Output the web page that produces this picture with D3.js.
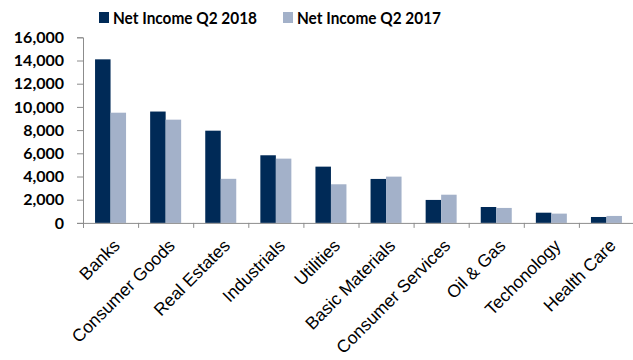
<!DOCTYPE html>
<html>
<head>
<meta charset="utf-8">
<script src="https://cdn.jsdelivr.net/npm/d3@7"></script>
<style>
  html, body { margin: 0; padding: 0; background: #fff; }
  svg { display: block; }
  .cat-label { font-family: "Liberation Sans", Arimo, Arial, Helvetica, sans-serif; font-size: 17.5px; }
  .bold-text { font-family: Lato, "Open Sans", sans-serif; font-weight: bold; }
</style>
</head>
<body>
<svg id="chart" width="633" height="360"></svg>
<script>
// Net income by sector, Q2 2018 vs Q2 2017
const sectors = ["Banks", "Consumer Goods", "Real Estates", "Industrials", "Utilities",
  "Basic Materials", "Consumer Services", "Oil & Gas", "Techonology", "Health Care"];
const income2018 = [14100, 9600, 7950, 5830, 4850, 3790, 1980, 1370, 880, 510];
const income2017 = [9500, 8900, 3800, 5540, 3330, 3990, 2430, 1290, 800, 600];
const seriesNames = ["Net Income Q2 2018", "Net Income Q2 2017"];
const yTicks = [0, 2000, 4000, 6000, 8000, 10000, 12000, 14000, 16000];

const colors = ["#002a57", "#a3b1c9"];
const axisColor = "#8c8c8c";

const svg = d3.select("#chart");
const plotLeft = 83, plotRight = 634, plotTop = 37.3, plotBottom = 222.9;

const x = d3.scaleBand().domain(sectors).range([plotLeft, plotRight]);
const inner = d3.scaleBand().domain([0, 1]).range([0, 31]);
const y = d3.scaleLinear().domain([0, 16000]).range([plotBottom, plotTop]);

// bars
const series = [income2018, income2017];
series.forEach((vals, s) => {
  svg.append("g").selectAll("rect")
    .data(sectors)
    .join("rect")
    .attr("x", d => x(d) + (x.bandwidth() - 31) / 2 + inner(s))
    .attr("y", (d, i) => y(vals[i]))
    .attr("width", inner.bandwidth())
    .attr("height", (d, i) => y(0) - y(vals[i]))
    .attr("fill", colors[s]);
});

// y axis
const yAxis = svg.append("g")
  .attr("transform", `translate(${plotLeft},0)`)
  .call(d3.axisLeft(y).tickValues(yTicks).tickSize(6).tickPadding(13)
    .tickFormat(d3.format(",")));
yAxis.attr("font-family", null).attr("font-size", null);
yAxis.select(".domain").attr("stroke", axisColor);
yAxis.selectAll(".tick line").attr("stroke", axisColor);
yAxis.selectAll(".tick text")
  .attr("class", "bold-text")
  .attr("fill", "#000")
  .style("font-size", "16px");

// x axis: baseline with ticks on category boundaries
const xBoundaries = d3.scaleLinear().domain([0, sectors.length]).range([plotLeft, plotRight]);
const xAxis = svg.append("g")
  .attr("transform", `translate(0,${plotBottom})`)
  .call(d3.axisBottom(xBoundaries).tickValues(d3.range(sectors.length + 1)).tickSize(5)
    .tickFormat(""));
xAxis.select(".domain").attr("stroke", axisColor);
xAxis.selectAll(".tick line").attr("stroke", axisColor);

// rotated category labels
svg.append("g").selectAll("text")
  .data(sectors)
  .join("text")
  .attr("class", "cat-label")
  .attr("transform", d => `translate(${x(d) + x.bandwidth() / 2 + 6},${plotBottom + 19.5}) rotate(-45)`)
  .attr("text-anchor", "end")
  .attr("dy", "0.35em")
  .attr("fill", "#000")
  .text(d => d);

// legend
const legendX = [99, 283];
const legend = svg.append("g").selectAll("g")
  .data(seriesNames)
  .join("g")
  .attr("transform", (d, i) => `translate(${legendX[i]},12)`);
legend.append("rect")
  .attr("width", 10).attr("height", 11)
  .attr("fill", (d, i) => colors[i]);
legend.append("text")
  .attr("class", "bold-text")
  .attr("x", 14).attr("y", 11.5)
  .attr("textLength", 144)
  .attr("lengthAdjust", "spacingAndGlyphs")
  .style("font-size", "17.5px")
  .attr("fill", "#000")
  .text(d => d);
</script>
</body>
</html>
